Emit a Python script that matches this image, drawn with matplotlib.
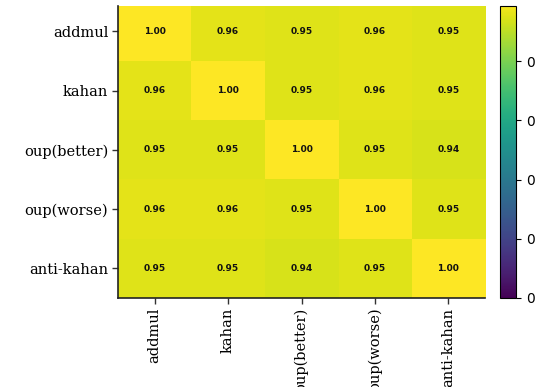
import matplotlib
matplotlib.use("Agg")
import matplotlib.pyplot as plt
import numpy as np

methods = ["addmul", "kahan", "oup(better)", "oup(worse)", "anti-kahan"]
similarity = np.array([
    [1.00, 0.96, 0.95, 0.96, 0.95],
    [0.96, 1.00, 0.95, 0.96, 0.95],
    [0.95, 0.95, 1.00, 0.95, 0.94],
    [0.96, 0.96, 0.95, 1.00, 0.95],
    [0.95, 0.95, 0.94, 0.95, 1.00],
])
cbar_ticks = [0.0, 0.2, 0.4, 0.6, 0.8, 1.0]

fig = plt.figure(figsize=(5.35, 3.87), dpi=100)
ax = fig.add_axes([0.2206, 0.23, 0.686, 0.7545])
cax = fig.add_axes([0.9346, 0.23, 0.0299, 0.7545])

im = ax.imshow(similarity, cmap="viridis", vmin=0, vmax=1, aspect="auto")

n = len(methods)
for i in range(n):
    for j in range(n):
        ax.text(j, i, f"{similarity[i, j]:.2f}", ha="center", va="center",
                fontsize=6.5, fontweight="bold", color="#111111", family="DejaVu Sans")

# top strip of the plot is trimmed a little
ax.set_ylim(n - 0.5, -0.43)

ax.set_xticks(range(n))
ax.set_yticks(range(n))
ax.set_xticklabels(methods, rotation=90, family="DejaVu Serif", fontsize=10.5)
ax.set_yticklabels(methods, family="DejaVu Serif", fontsize=10.5)
ax.tick_params(direction="out", length=4, width=1, pad=3, color="#333333")
ax.spines["top"].set_visible(False)
ax.spines["right"].set_visible(False)
ax.spines["left"].set_linewidth(1.2)
ax.spines["bottom"].set_linewidth(1.2)
ax.spines["left"].set_color("#222222")
ax.spines["bottom"].set_color("#222222")

cb = fig.colorbar(im, cax=cax, ticks=cbar_ticks)
cb.ax.tick_params(labelsize=10, length=3.5, pad=3.5)
cb.ax.set_ylim(0, 0.986)
cb.outline.set_linewidth(0.8)

fig.savefig("out.png", dpi=100)
